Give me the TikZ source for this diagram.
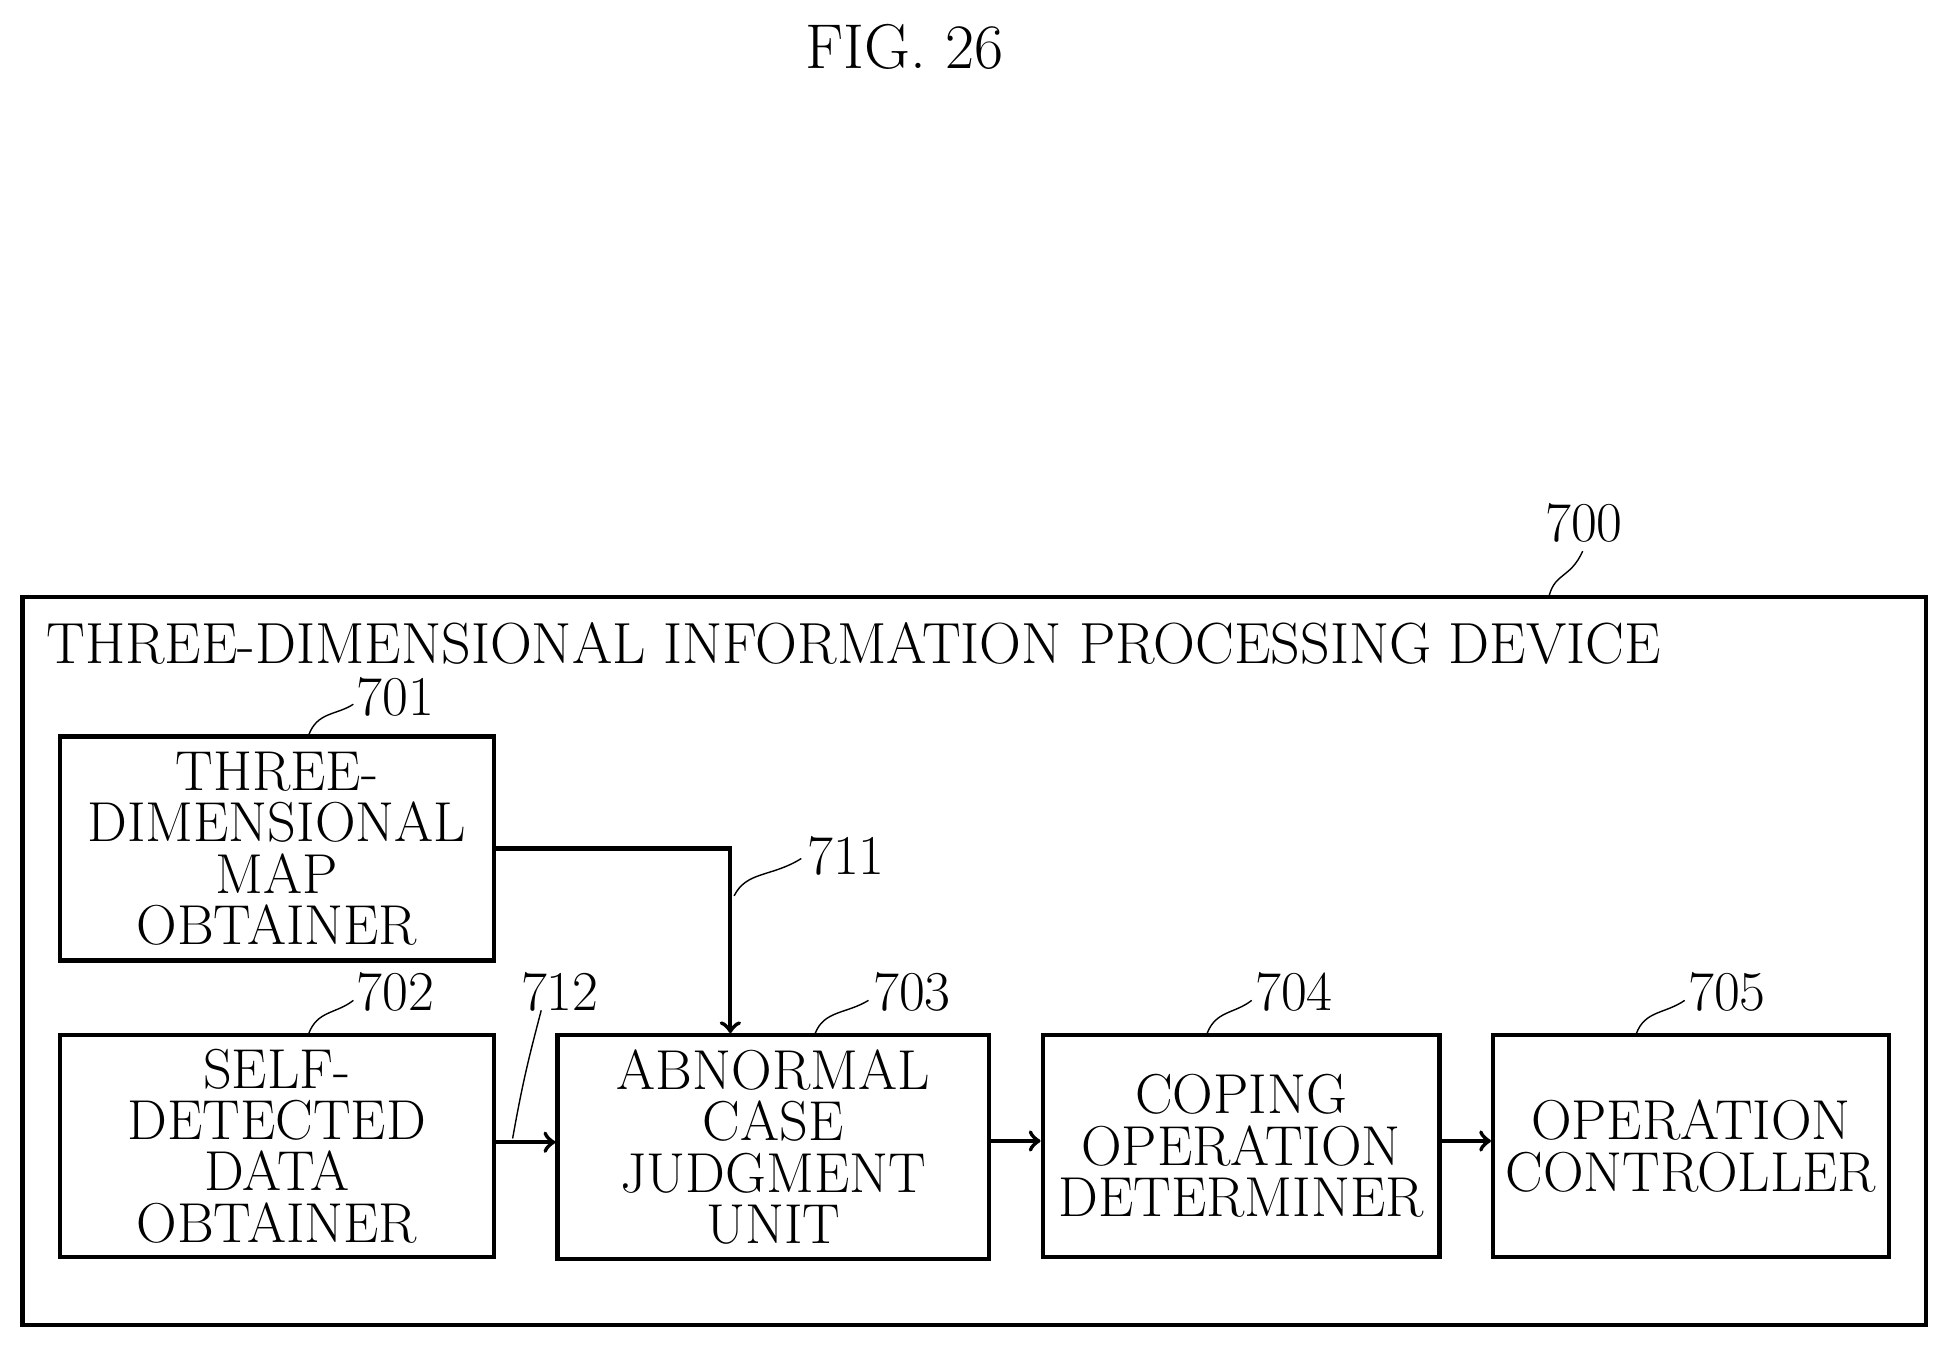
\documentclass[tikz,border=0pt]{standalone}
\usepackage{tikz}
\usetikzlibrary{positioning}
\tikzset{
	blocknode/.style={rectangle, draw=black, very thick, align=center, inner sep=0pt, font=\fontsize{16}{14.6}\selectfont},
	numnode/.style={font=\fontsize{16}{16}\selectfont, inner sep=1pt},
	leader/.style={thin}
}
\begin{document}
\begin{tikzpicture}[x=0.01244cm, y=-0.01244cm]
		\useasboundingbox (0,0) rectangle (1560,1083);
		\node[numnode, font=\fontsize{18}{18}\selectfont] at (727,38) (fig) {FIG. 26};
		\node[draw=black, very thick, minimum width=1530*0.01244cm, minimum height=585*0.01244cm, inner sep=0pt] at (783,772.5) (dev) {};
		\node[numnode, anchor=west, font=\fontsize{16.5}{16}\selectfont] at (34,517) (devtxt) {THREE-DIMENSIONAL INFORMATION PROCESSING DEVICE};
		\node[numnode] at (1273,420) (n700) {700};
		\draw[leader] (1245,479) .. controls (1250,460) and (1262,465) .. (1272,443);
		
		\node[blocknode, minimum width=349*0.01244cm, minimum height=180*0.01244cm] at (222.5,682) (map) {THREE-\\DIMENSIONAL\\MAP\\OBTAINER};
		\node[blocknode, minimum width=349*0.01244cm, minimum height=178*0.01244cm] at (222.5,921) (self) {SELF-\\DETECTED\\DATA\\OBTAINER};
		\node[blocknode, minimum width=347*0.01244cm, minimum height=180*0.01244cm] at (621.5,922) (judge) {ABNORMAL\\CASE\\JUDGMENT\\UNIT};
		\node[blocknode, minimum width=319*0.01244cm, minimum height=178*0.01244cm] at (997.5,921) (cope) {COPING\\OPERATION\\DETERMINER};
		\node[blocknode, minimum width=318*0.01244cm, minimum height=178*0.01244cm] at (1359,921) (ctrl) {OPERATION\\CONTROLLER};
		
		\node[numnode] at (318,560) (n701) {701};
		\node[numnode] at (318,797) (n702) {702};
		\node[numnode] at (733,797) (n703) {703};
		\node[numnode] at (1040,797) (n704) {704};
		\node[numnode] at (1388,797) (n705) {705};
		\node[numnode] at (680,688) (n711) {711};
		\node[numnode] at (450,797) (n712) {712};
		\draw[leader] (248,591) .. controls (255,572) and (270,575) .. (284,566);
		\draw[leader] (248,831) .. controls (255,812) and (270,815) .. (284,804);
		\draw[leader] (655,831) .. controls (662,812) and (680,815) .. (698,804);
		\draw[leader] (970,831) .. controls (977,812) and (992,815) .. (1006,804);
		\draw[leader] (1315,831) .. controls (1322,812) and (1338,815) .. (1354,804);
		\draw[leader] (590,720) .. controls (600,700) and (620,705) .. (644,690);
		\draw[leader] (412,915) .. controls (420,870) and (425,850) .. (435,812);
		
		\draw[->, very thick] (map.east |- 0,682) -| (judge.north -| 587,0);
		\draw[->, very thick] (self.east |- 0,918) -- (judge.west |- 0,918);
		\draw[->, very thick] (judge.east |- 0,917) -- (cope.west |- 0,917);
		\draw[->, very thick] (cope.east |- 0,917) -- (ctrl.west |- 0,917);
	\end{tikzpicture}
\end{document}
